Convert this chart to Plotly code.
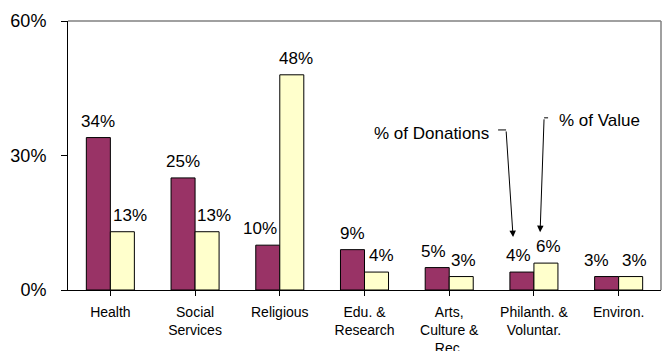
import plotly.graph_objects as go

# Share of donations vs. share of value, by sector
categories = ["Health", "Social<br>Services", "Religious", "Edu. &<br>Research",
              "Arts,<br>Culture &<br>Rec.", "Philanth. &<br>Voluntar.", "Environ."]
pct_donations = [34, 25, 10, 9, 5, 4, 3]
pct_value = [13, 13, 48, 4, 3, 6, 3]
y_ticks = [0, 30, 60]

# Horizontal nudges (px) for the value labels so neighbours don't crowd
nudge_donations = [0, 0, -8, 0, -4, -3, -10]
nudge_value = [8, 7, 4, 5, 2, 3, 4]

FONT = "Liberation Sans, Arial, sans-serif"
x_idx = list(range(len(categories)))
BARGAP = 0.433
HALF_BAR = (1 - BARGAP) / 4  # offset of each bar centre from its category centre

fig = go.Figure()
fig.add_trace(go.Bar(
    name="% of Donations", x=x_idx, y=pct_donations,
    marker=dict(color="#993366", line=dict(color="black", width=1)),
))
fig.add_trace(go.Bar(
    name="% of Value", x=x_idx, y=pct_value,
    marker=dict(color="#FFFFCC", line=dict(color="black", width=1)),
))

# Value labels above each bar
for values, nudges, sign in ((pct_donations, nudge_donations, -1),
                             (pct_value, nudge_value, 1)):
    for i, (v, dx) in enumerate(zip(values, nudges)):
        fig.add_annotation(x=i + sign * HALF_BAR, y=v, xref="x", yref="y",
                           text=f"{v}%", showarrow=False, yanchor="bottom",
                           yshift=5, xshift=dx,
                           font=dict(family=FONT, size=17, color="black"))

# Callout labels with bent arrows pointing at the Philanth. pair
callouts = [
    # text, text x, text y, anchor, bracket x0, bracket x1, arrow tail y, arrow head x, arrow head y
    ("% of Donations", 4.494, 35.0, "right", 4.577, 4.671, 35.7, 4.754, 11.8),
    ("% of Value", 5.273, 37.7, "left", 5.167, 5.120, 38.4, 5.073, 12.9),
]
for label, tx, ty, anchor, bx0, bx1, tail_y, hx, hy in callouts:
    fig.add_annotation(x=tx, y=ty, xref="x", yref="y", text=label, showarrow=False,
                       xanchor=anchor, yanchor="middle",
                       font=dict(family=FONT, size=17, color="black"))
    fig.add_shape(type="line", xref="x", yref="y", x0=bx0, x1=bx1, y0=tail_y, y1=tail_y,
                  line=dict(color="black", width=1))
    fig.add_annotation(x=hx, y=hy, xref="x", yref="y", ax=bx1, ay=tail_y,
                       axref="x", ayref="y", text="", showarrow=True,
                       arrowhead=2, arrowsize=1.3, arrowwidth=1, arrowcolor="black")

# Grey top and right border of the plot area
fig.add_shape(type="line", xref="paper", yref="paper", x0=0, x1=1, y0=1, y1=1,
              line=dict(color="#808080", width=1.5))
fig.add_shape(type="line", xref="paper", yref="paper", x0=1, x1=1, y0=0, y1=1,
              line=dict(color="#808080", width=1.5))

fig.update_layout(
    width=667, height=351,
    margin=dict(l=68, r=6, t=21, b=61, autoexpand=False),
    paper_bgcolor="white", plot_bgcolor="white",
    barmode="group", bargap=BARGAP, bargroupgap=0,
    showlegend=False,
    font=dict(family=FONT, color="black"),
)
fig.update_xaxes(
    tickmode="array", tickvals=x_idx, ticktext=categories,
    range=[-0.5, len(categories) - 0.5], automargin=False,
    tickson="boundaries", ticks="outside", ticklen=5, tickcolor="black",
    ticklabelstandoff=4,
    showline=True, linecolor="black", linewidth=1,
    showgrid=False, zeroline=False,
    tickfont=dict(family=FONT, size=14, color="black"),
)
fig.update_yaxes(
    range=[0, 60], tickvals=y_ticks, ticktext=[f"{v}%" for v in y_ticks],
    automargin=False,
    ticks="outside", ticklen=6, tickcolor="black", ticklabelstandoff=11,
    showline=True, linecolor="black", linewidth=1,
    showgrid=False, zeroline=False,
    tickfont=dict(family=FONT, size=18, color="black"),
)

fig.write_html("out.html")
